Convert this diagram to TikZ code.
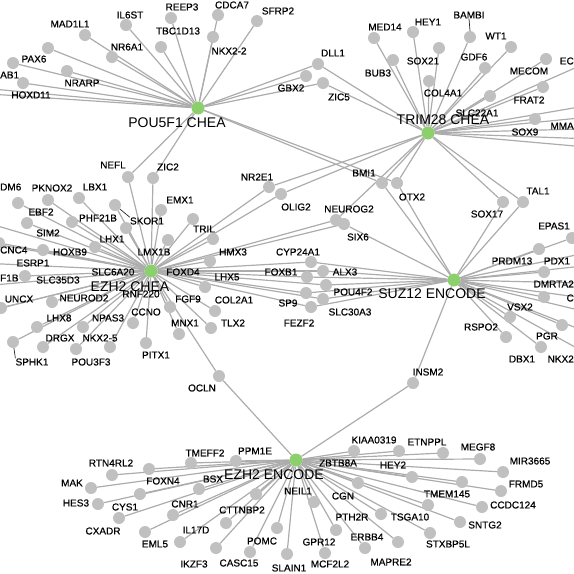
\documentclass[tikz,border=0pt]{standalone}
\usepackage{fontspec}
\setmainfont{Liberation Sans}[BoldFont={Liberation Sans}, BoldFeatures={FakeBold=0.6}]
\usetikzlibrary{backgrounds}
\definecolor{dotgray}{RGB}{192,192,192}
\definecolor{edgegray}{RGB}{172,172,172}
\definecolor{hubgreen}{RGB}{140,208,110}
\begin{document}
\begin{tikzpicture}[x=1pt, y=-1pt]
    % Node styles
    \tikzstyle{g} = [circle, fill=dotgray, minimum size=12pt, inner sep=0]
    \tikzstyle{hub} = [circle, fill=hubgreen, minimum size=13pt, inner sep=0]
    \tikzstyle{t} = [font=\fontsize{10}{12}\selectfont\bfseries, inner sep=0]
    \tikzstyle{ht} = [font=\fontsize{14}{16}\selectfont, inner sep=0]
    \tikzstyle{e} = [draw=edgegray, line width=1.2pt]
    \tikzstyle{lead} = [draw=black!85, line width=0.7pt]

    \useasboundingbox (0,0) rectangle (574,574);
    \clip (0,0) rectangle (574,574);

    % Hubs
    \node[hub] (P) at (198,108) {};
    \node[hub] (T) at (428,133) {};
    \node[hub] (C) at (151,271) {};
    \node[hub] (S) at (454,280) {};
    \node[hub] (E) at (296,460) {};

    % POU5F1 CHEA
    \node[g] (il6st) at (126,25) {};    \node[t] (il6stL) at (130,15) {IL6ST};
    \node[g] (reep3) at (171,18) {};    \node[t] (reep3L) at (182,7) {REEP3};
    \node[g] (tbc) at (161,47) {};      \node[t] (tbcL) at (178,31) {TBC1D13};
    \node[g] (mad) at (85,35) {};       \node[t] (madL) at (70,24) {MAD1L1};
    \node[g] (nr6a1) at (112,57) {};    \node[t] (nr6a1L) at (127,47) {NR6A1};
    \node[g] (pax6) at (48,48) {};      \node[t] (pax6L) at (34,59) {PAX6};
    \node[g] (ab1) at (13,63) {};       \node[t, anchor=west] (ab1L) at (0,75) {AB1};
    \node[g] (nrarp) at (67,71) {};     \node[t] (nrarpL) at (82,83) {NRARP};
    \node[g] (hoxd11) at (23,83) {};    \node[t] (hoxd11L) at (31,95) {HOXD11};
    \node[g] (cdca7) at (218,15) {};    \node[t] (cdca7L) at (232,5) {CDCA7};
    \node[g] (nkx22) at (213,37) {};    \node[t] (nkx22L) at (229,51) {NKX2-2};
    \node[g] (sfrp2) at (257,21) {};    \node[t] (sfrp2L) at (278,11) {SFRP2};
    \node[g] (gbx2) at (306,76) {};     \node[t] (gbx2L) at (291,88) {GBX2};
    \node[g] (dll1) at (318,64) {};     \node[t] (dll1L) at (333,53) {DLL1};
    \node[g] (zic5) at (323,83) {};     \node[t] (zic5L) at (339,97) {ZIC5};
    \node[g] (nefl) at (128,177) {};    \node[t] (neflL) at (113,165) {NEFL};
    \node[g] (zic2) at (153,178) {};    \node[t] (zic2L) at (168,167) {ZIC2};
    \node[g] (bmi1) at (382,183) {};    \node[t] (bmi1L) at (364,173) {BMI1};
    \node[g] (otx2) at (397,183) {};    \node[t] (otx2L) at (412,197) {OTX2};
    \coordinate (pw1) at (-40,86);
    \coordinate (pw2) at (-40,92);

    % TRIM28 CHEA
    \node[g] (med14) at (374,38) {};    \node[t] (med14L) at (385,27) {MED14};
    \node[g] (bub3) at (393,60) {};     \node[t] (bub3L) at (378,73) {BUB3};
    \node[g] (hey1) at (413,32) {};     \node[t] (hey1L) at (428,22) {HEY1};
    \node[g] (bambi) at (470,37) {};    \node[t] (bambiL) at (469,15) {BAMBI};
    \node[g] (wt1) at (511,47) {};      \node[t] (wt1L) at (496,36) {WT1};
    \node[g] (sox21) at (439,48) {};    \node[t] (sox21L) at (423,61) {SOX21};
    \node[g] (gdf6) at (485,68) {};     \node[t] (gdf6L) at (474,57) {GDF6};
    \node[g] (col4a1) at (429,81) {};   \node[t] (col4a1L) at (443,93) {COL4A1};
    \node[g] (mecom) at (546,59) {};    \node[t] (mecomL) at (529,71) {MECOM};
    \node[g] (frat2) at (543,87) {};    \node[t] (frat2L) at (529,100) {FRAT2};
    \node[g] (slc22a1) at (490,96) {};  \node[t] (slc22a1L) at (477,113) {SLC22A1};
    \node[g] (sox9) at (535,119) {};    \node[t] (sox9L) at (525,132) {SOX9};
    \node[t, anchor=east] (ecL) at (574,61) {EC};
    \node[t, anchor=east] (mmaL) at (574,126) {MMA};
    \node[g] (tal1) at (523,202) {};    \node[t] (tal1L) at (538,191) {TAL1};
    \node[g] (sox17) at (503,202) {};   \node[t] (sox17L) at (487,214) {SOX17};
    \node[g] (nr2e1) at (269,187) {};   \node[t] (nr2e1L) at (257,177) {NR2E1};
    \node[g] (olig2) at (281,194) {};   \node[t] (olig2L) at (296,207) {OLIG2};
    \node[g] (neurog2) at (336,220) {}; \node[t] (neurog2L) at (349,209) {NEUROG2};
    \node[g] (six6) at (344,224) {};    \node[t] (six6L) at (358,237) {SIX6};
    \coordinate (te1) at (620,48);
    \coordinate (te2) at (620,100);
    \coordinate (te3) at (620,114);
    \coordinate (te4) at (620,128);
    \coordinate (te5) at (620,140);
    \coordinate (te6) at (620,150);

    % EZH2 CHEA
    \node[g] (dm6) at (18,203) {};      \node[t, anchor=west] (dm6L) at (0,187) {DM6};
    \node[g] (pknox2) at (48,200) {};   \node[t] (pknox2L) at (52,188) {PKNOX2};
    \node[g] (lbx1) at (79,198) {};     \node[t] (lbx1L) at (95,187) {LBX1};
    \node[g] (ebf2) at (27,223) {};     \node[t] (ebf2L) at (41,212) {EBF2};
    \node[g] (phf21b) at (72,222) {};   \node[t] (phf21bL) at (98,218) {PHF21B};
    \node[g] (skor1) at (115,205) {};   \node[t] (skor1L) at (147,221) {SKOR1};
    \node[g] (emx1) at (161,210) {};    \node[t] (emx1L) at (180,200) {EMX1};
    \node[g] (c1) at (193,219) {};
    \node[g] (sim2) at (43,250) {};     \node[t] (sim2L) at (48,233) {SIM2};
    \node[g] (lhx1) at (126,228) {};    \node[t] (lhx1L) at (112,239) {LHX1};
    \node[g] (hoxb9) at (95,247) {};    \node[t] (hoxb9L) at (70,252) {HOXB9};
    \node[g] (lmx1b) at (168,240) {};   \node[t] (lmx1bL) at (154,252) {LMX1B};
    \node[g] (cnc4) at (-1,243) {};     \node[t, anchor=west] (cnc4L) at (0,250) {CNC4};
    \node[g] (esrp1) at (25,276) {};    \node[t] (esrp1L) at (33,263) {ESRP1};
    \node[t, anchor=west] (f1bL) at (0,278) {F1B};
    \node[t] (slc35d3L) at (58,280) {SLC35D3};
    \node[t] (slc6a20L) at (113,272) {SLC6A20};
    \node[t] (foxd4L) at (183,272) {FOXD4};
    \node[g] (uncx) at (1,308) {};      \node[t] (uncxL) at (19,299) {UNCX};
    \node[g] (neurod2) at (52,302) {};  \node[t] (neurod2L) at (84,298) {NEUROD2};
    \node[g] (lhx8) at (37,327) {};     \node[t] (lhx8L) at (59,318) {LHX8};
    \node[g] (npas3) at (83,327) {};    \node[t] (npas3L) at (108,318) {NPAS3};
    \node[g] (ccno) at (133,323) {};    \node[t] (ccnoL) at (146,312) {CCNO};
    \node[g] (fgf9) at (170,307) {};    \node[t] (fgf9L) at (188,299) {FGF9};
    \node[t] (rnf220L) at (141,294) {RNF220};
    \node[g] (mnx1) at (179,334) {};    \node[t] (mnx1L) at (185,323) {MNX1};
    \node[g] (sphk1) at (13,342) {};    \node[t] (sphk1L) at (32,362) {SPHK1};
    \node[g] (drgx) at (43,347) {};     \node[t] (drgxL) at (60,338) {DRGX};
    \node[g] (pou3f3) at (76,349) {};   \node[t] (pou3f3L) at (91,362) {POU3F3};
    \node[g] (nkx25) at (110,347) {};   \node[t] (nkx25L) at (100,338) {NKX2-5};
    \node[g] (pitx1) at (146,343) {};   \node[t] (pitx1L) at (156,355) {PITX1};
    \node[g] (tril) at (213,239) {};    \node[t] (trilL) at (204,229) {TRIL};
    \node[g] (hmx3) at (210,261) {};    \node[t] (hmx3L) at (233,252) {HMX3};
    \node[g] (lhx5) at (205,287) {};    \node[t] (lhx5L) at (227,277) {LHX5};
    \node[g] (col2a1) at (215,311) {};  \node[t] (col2a1L) at (234,300) {COL2A1};
    \node[g] (tlx2) at (211,328) {};    \node[t] (tlx2L) at (233,323) {TLX2};
    \coordinate (cw1) at (-40,215);
    \coordinate (cw2) at (-40,238);
    \coordinate (cw3) at (-40,262);
    \coordinate (cw4) at (-40,288);
    \coordinate (cw5) at (-40,318);

    % shared EZH2 CHEA / SUZ12 ENCODE
    \node[g] (cyp24a1) at (311,262) {}; \node[t] (cyp24a1L) at (298,252) {CYP24A1};
    \node[g] (foxb1) at (307,277) {};   \node[t] (foxb1L) at (281,272) {FOXB1};
    \node[g] (alx3) at (323,271) {};    \node[t] (alx3L) at (345,272) {ALX3};
    \node[g] (pou4f2) at (326,285) {};  \node[t] (pou4f2L) at (353,292) {POU4F2};
    \node[g] (sp9) at (306,293) {};     \node[t] (sp9L) at (288,303) {SP9};
    \node[g] (slc30a3) at (323,299) {}; \node[t] (slc30a3L) at (350,312) {SLC30A3};
    \node[g] (fezf2) at (311,307) {};   \node[t] (fezf2L) at (299,323) {FEZF2};
    \node[g] (ocln) at (219,376) {};    \node[t] (oclnL) at (202,388) {OCLN};
    \node[g] (insm2) at (413,383) {};   \node[t] (insm2L) at (428,372) {INSM2};

    % SUZ12 ENCODE
    \node[g] (epas1) at (572,238) {};   \node[t] (epas1L) at (554,226) {EPAS1};
    \node[g] (prdm13) at (539,249) {};  \node[t] (prdm13L) at (512,261) {PRDM13};
    \node[g] (pdx1) at (544,272) {};    \node[t] (pdx1L) at (557,261) {PDX1};
    \node[g] (dmrta2) at (544,297) {};  \node[t, anchor=east] (dmrta2L) at (574,284) {DMRTA2};
    \node[t, anchor=east] (cL) at (574,298) {C};
    \node[g] (vsx2) at (510,317) {};    \node[t] (vsx2L) at (520,307) {VSX2};
    \node[g] (rspo2) at (506,337) {};   \node[t] (rspo2L) at (481,327) {RSPO2};
    \node[g] (nkx2) at (562,325) {};    \node[t, anchor=east] (nkx2L) at (574,359) {NKX2};
    \node[g] (pgr) at (541,347) {};     \node[t] (pgrL) at (547,336) {PGR};
    \node[t] (dbx1L) at (522,359) {DBX1};
    \coordinate (se1) at (620,246);
    \coordinate (se2) at (620,262);
    \coordinate (se3) at (620,284);
    \coordinate (se4) at (620,303);
    \coordinate (se5) at (620,320);
    \coordinate (se6) at (620,345);
    \coordinate (se7) at (620,372);

    % EZH2 ENCODE
    \node[g] (rtn4rl2) at (112,475) {}; \node[t] (rtn4rl2L) at (111,463) {RTN4RL2};
    \node[g] (foxn4) at (149,469) {};   \node[t] (foxn4L) at (163,481) {FOXN4};
    \node[g] (tmeff2) at (191,463) {};  \node[t] (tmeff2L) at (205,453) {TMEFF2};
    \node[g] (mak) at (91,488) {};      \node[t] (makL) at (72,483) {MAK};
    \node[g] (cys1) at (140,494) {};    \node[t] (cys1L) at (125,507) {CYS1};
    \node[g] (hes3) at (98,504) {};     \node[t] (hes3L) at (76,503) {HES3};
    \node[g] (bsx) at (199,489) {};     \node[t] (bsxL) at (213,479) {BSX};
    \node[g] (cxadr) at (119,518) {};   \node[t] (cxadrL) at (103,531) {CXADR};
    \node[g] (cnr1) at (173,515) {};    \node[t] (cnr1L) at (185,504) {CNR1};
    \node[g] (eml5) at (145,532) {};    \node[t] (eml5L) at (155,544) {EML5};
    \node[g] (il17d) at (180,542) {};   \node[t] (il17dL) at (196,530) {IL17D};
    \node[g] (ikzf3) at (216,548) {};   \node[t] (ikzf3L) at (194,564) {IKZF3};
    \node[g] (ppm1e) at (236,461) {};   \node[t] (ppm1eL) at (255,451) {PPM1E};
    \node[g] (e1) at (256,494) {};
    \node[g] (cttnbp2) at (226,523) {}; \node[t] (cttnbp2L) at (242,510) {CTTNBP2};
    \node[g] (pomc) at (277,528) {};    \node[t] (pomcL) at (262,541) {POMC};
    \node[g] (casc15) at (250,552) {};  \node[t] (casc15L) at (239,563) {CASC15};
    \node[g] (slain1) at (287,554) {};  \node[t] (slain1L) at (289,568) {SLAIN1};
    \node[g] (neil1) at (314,502) {};   \node[t] (neil1L) at (298,491) {NEIL1};
    \node[g] (gpr12) at (336,530) {};   \node[t] (gpr12L) at (319,542) {GPR12};
    \node[g] (cgn) at (358,483) {};     \node[t] (cgnL) at (343,496) {CGN};
    \node[g] (pth2r) at (381,514) {};   \node[t] (pth2rL) at (352,517) {PTH2R};
    \node[g] (mcf2l2) at (325,553) {};  \node[t] (mcf2l2L) at (330,564) {MCF2L2};
    \node[g] (erbb4) at (365,548) {};   \node[t] (erbb4L) at (367,537) {ERBB4};
    \node[g] (mapre2) at (398,542) {};  \node[t] (mapre2L) at (391,562) {MAPRE2};
    \node[g] (zbtb8a) at (354,451) {};  \node[t] (zbtb8aL) at (338,463) {ZBTB8A};
    \node[g] (kiaa) at (399,451) {};    \node[t] (kiaaL) at (374,440) {KIAA0319};
    \node[g] (hey2) at (412,477) {};    \node[t] (hey2L) at (393,465) {HEY2};
    \node[g] (etnppl) at (443,453) {};  \node[t] (etnpplL) at (427,442) {ETNPPL};
    \node[g] (megf8) at (480,459) {};   \node[t] (megf8L) at (478,447) {MEGF8};
    \node[g] (mir3665) at (503,472) {}; \node[t] (mir3665L) at (530,461) {MIR3665};
    \node[g] (frmd5) at (501,491) {};   \node[t] (frmd5L) at (526,484) {FRMD5};
    \node[g] (tmem145) at (462,482) {}; \node[t] (tmem145L) at (447,494) {TMEM145};
    \node[g] (ccdc124) at (482,507) {}; \node[t] (ccdc124L) at (513,505) {CCDC124};
    \node[g] (tsga10) at (428,505) {};  \node[t] (tsga10L) at (410,517) {TSGA10};
    \node[g] (sntg2) at (460,522) {};   \node[t] (sntg2L) at (485,525) {SNTG2};
    \node[g] (stxbp5l) at (430,533) {}; \node[t] (stxbp5lL) at (448,544) {STXBP5L};

    % Leaders
    \draw[lead] (bambiL.south) -- (bambi.north);
    \draw[lead] (skor1) -- (skor1L.north west);
    \draw[lead] (sphk1) -- (sphk1L.north west);

    % Edges
    \begin{scope}[on background layer]
    \draw[e] (P) -- (il6st);
    \draw[e] (P) -- (reep3);
    \draw[e] (P) -- (tbc);
    \draw[e] (P) -- (mad);
    \draw[e] (P) -- (nr6a1);
    \draw[e] (P) -- (pax6);
    \draw[e] (P) -- (ab1);
    \draw[e] (P) -- (nrarp);
    \draw[e] (P) -- (hoxd11);
    \draw[e] (P) -- (cdca7);
    \draw[e] (P) -- (nkx22);
    \draw[e] (P) -- (sfrp2);
    \draw[e] (P) -- (gbx2);
    \draw[e] (P) -- (dll1);
    \draw[e] (P) -- (zic5);
    \draw[e] (P) -- (nefl);
    \draw[e] (P) -- (zic2);
    \draw[e] (P) -- (bmi1);
    \draw[e] (P) -- (otx2);
    \draw[e] (P) -- (pw1);
    \draw[e] (P) -- (pw2);

    \draw[e] (T) -- (med14);
    \draw[e] (T) -- (bub3);
    \draw[e] (T) -- (hey1);
    \draw[e] (T) -- (bambi);
    \draw[e] (T) -- (wt1);
    \draw[e] (T) -- (sox21);
    \draw[e] (T) -- (gdf6);
    \draw[e] (T) -- (col4a1);
    \draw[e] (T) -- (mecom);
    \draw[e] (T) -- (frat2);
    \draw[e] (T) -- (slc22a1);
    \draw[e] (T) -- (sox9);
    \draw[e] (T) -- (te1);
    \draw[e] (T) -- (te2);
    \draw[e] (T) -- (te3);
    \draw[e] (T) -- (te4);
    \draw[e] (T) -- (te5);
    \draw[e] (T) -- (te6);
    \draw[e] (T) -- (tal1);
    \draw[e] (T) -- (sox17);
    \draw[e] (T) -- (dll1);
    \draw[e] (T) -- (zic5);
    \draw[e] (T) -- (bmi1);
    \draw[e] (T) -- (otx2);
    \draw[e] (T) -- (nr2e1);
    \draw[e] (T) -- (olig2);
    \draw[e] (T) -- (neurog2);

    \draw[e] (C) -- (dm6);
    \draw[e] (C) -- (pknox2);
    \draw[e] (C) -- (lbx1);
    \draw[e] (C) -- (ebf2);
    \draw[e] (C) -- (phf21b);
    \draw[e] (C) -- (skor1);
    \draw[e] (C) -- (emx1);
    \draw[e] (C) -- (c1);
    \draw[e] (C) -- (sim2);
    \draw[e] (C) -- (lhx1);
    \draw[e] (C) -- (hoxb9);
    \draw[e] (C) -- (lmx1b);
    \draw[e] (C) -- (cnc4);
    \draw[e] (C) -- (esrp1);
    \draw[e] (C) -- (uncx);
    \draw[e] (C) -- (neurod2);
    \draw[e] (C) -- (lhx8);
    \draw[e] (C) -- (npas3);
    \draw[e] (C) -- (ccno);
    \draw[e] (C) -- (fgf9);
    \draw[e] (C) -- (mnx1);
    \draw[e] (C) -- (sphk1);
    \draw[e] (C) -- (drgx);
    \draw[e] (C) -- (pou3f3);
    \draw[e] (C) -- (nkx25);
    \draw[e] (C) -- (pitx1);
    \draw[e] (C) -- (tril);
    \draw[e] (C) -- (hmx3);
    \draw[e] (C) -- (lhx5);
    \draw[e] (C) -- (col2a1);
    \draw[e] (C) -- (tlx2);
    \draw[e] (C) -- (nefl);
    \draw[e] (C) -- (zic2);
    \draw[e] (C) -- (nr2e1);
    \draw[e] (C) -- (olig2);
    \draw[e] (C) -- (neurog2);
    \draw[e] (C) -- (six6);
    \draw[e] (C) -- (cyp24a1);
    \draw[e] (C) -- (foxb1);
    \draw[e] (C) -- (alx3);
    \draw[e] (C) -- (pou4f2);
    \draw[e] (C) -- (sp9);
    \draw[e] (C) -- (slc30a3);
    \draw[e] (C) -- (fezf2);
    \draw[e] (C) -- (ocln);
    \draw[e] (C) -- (cw1);
    \draw[e] (C) -- (cw2);
    \draw[e] (C) -- (cw3);
    \draw[e] (C) -- (cw4);
    \draw[e] (C) -- (cw5);

    \draw[e] (S) -- (cyp24a1);
    \draw[e] (S) -- (foxb1);
    \draw[e] (S) -- (alx3);
    \draw[e] (S) -- (pou4f2);
    \draw[e] (S) -- (sp9);
    \draw[e] (S) -- (slc30a3);
    \draw[e] (S) -- (fezf2);
    \draw[e] (S) -- (bmi1);
    \draw[e] (S) -- (otx2);
    \draw[e] (S) -- (six6);
    \draw[e] (S) -- (sox17);
    \draw[e] (S) -- (tal1);
    \draw[e] (S) -- (epas1);
    \draw[e] (S) -- (prdm13);
    \draw[e] (S) -- (pdx1);
    \draw[e] (S) -- (dmrta2);
    \draw[e] (S) -- (vsx2);
    \draw[e] (S) -- (rspo2);
    \draw[e] (S) -- (nkx2);
    \draw[e] (S) -- (pgr);
    \draw[e] (S) -- (insm2);
    \draw[e] (S) -- (se1);
    \draw[e] (S) -- (se2);
    \draw[e] (S) -- (se3);
    \draw[e] (S) -- (se4);
    \draw[e] (S) -- (se5);
    \draw[e] (S) -- (se6);
    \draw[e] (S) -- (se7);

    \draw[e] (E) -- (ocln);
    \draw[e] (E) -- (insm2);
    \draw[e] (E) -- (rtn4rl2);
    \draw[e] (E) -- (foxn4);
    \draw[e] (E) -- (tmeff2);
    \draw[e] (E) -- (mak);
    \draw[e] (E) -- (cys1);
    \draw[e] (E) -- (hes3);
    \draw[e] (E) -- (bsx);
    \draw[e] (E) -- (cxadr);
    \draw[e] (E) -- (cnr1);
    \draw[e] (E) -- (eml5);
    \draw[e] (E) -- (il17d);
    \draw[e] (E) -- (ikzf3);
    \draw[e] (E) -- (ppm1e);
    \draw[e] (E) -- (e1);
    \draw[e] (E) -- (cttnbp2);
    \draw[e] (E) -- (pomc);
    \draw[e] (E) -- (casc15);
    \draw[e] (E) -- (slain1);
    \draw[e] (E) -- (neil1);
    \draw[e] (E) -- (gpr12);
    \draw[e] (E) -- (cgn);
    \draw[e] (E) -- (pth2r);
    \draw[e] (E) -- (mcf2l2);
    \draw[e] (E) -- (erbb4);
    \draw[e] (E) -- (mapre2);
    \draw[e] (E) -- (zbtb8a);
    \draw[e] (E) -- (kiaa);
    \draw[e] (E) -- (hey2);
    \draw[e] (E) -- (etnppl);
    \draw[e] (E) -- (megf8);
    \draw[e] (E) -- (mir3665);
    \draw[e] (E) -- (frmd5);
    \draw[e] (E) -- (tmem145);
    \draw[e] (E) -- (ccdc124);
    \draw[e] (E) -- (tsga10);
    \draw[e] (E) -- (sntg2);
    \draw[e] (E) -- (stxbp5l);
    \end{scope}

    % Hub labels
    \node[ht] (PL) at (177,123) {POU5F1 CHEA};
    \node[ht] (TL) at (443,120) {TRIM28 CHEA};
    \node[ht] (CL) at (130,287) {EZH2 CHEA};
    \node[ht] (SL) at (432,294) {SUZ12 ENCODE};
    \node[ht] (EL) at (274,475) {EZH2 ENCODE};
\end{tikzpicture}
\end{document}
